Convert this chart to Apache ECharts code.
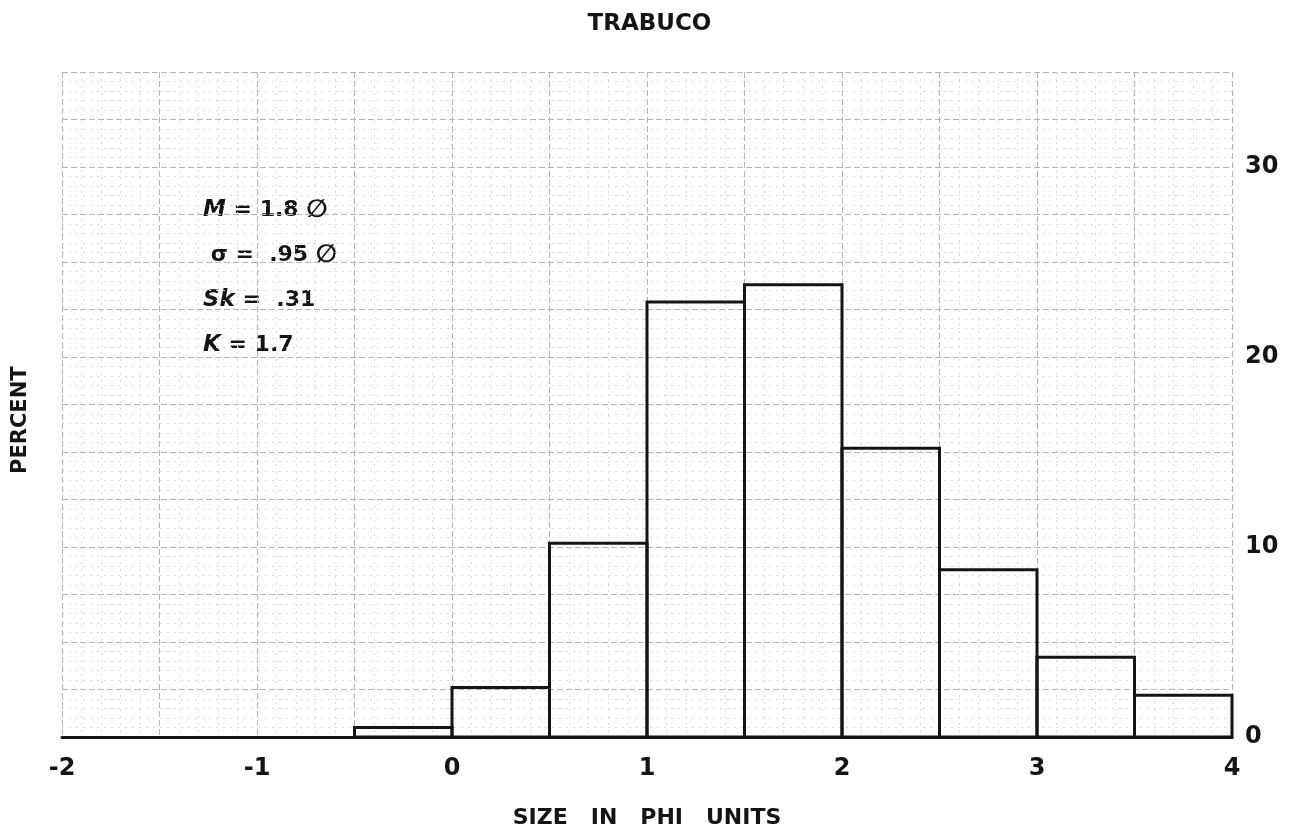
<!DOCTYPE html>
<html>
<head>
<meta charset="utf-8">
<script src="https://cdn.jsdelivr.net/npm/echarts@6/dist/echarts.min.js"></script>
<style>
  html, body { margin: 0; padding: 0; background: #fff; }
  #chart { width: 1299px; height: 834px; }
</style>
</head>
<body>
<div id="chart"></div>
<script>
// histogram bins (phi units) and percent in each bin
const binStart = [-0.5, 0, 0.5, 1, 1.5, 2, 2.5, 3, 3.5];
const binEnd = [0, 0.5, 1, 1.5, 2, 2.5, 3, 3.5, 4];
const percent = [0.5, 2.6, 10.2, 22.9, 23.8, 15.2, 8.8, 4.2, 2.2];

const xTicks = [-2, -1, 0, 1, 2, 3, 4];
const yTicks = [0, 10, 20, 30];
const stats = ['{i|M} = 1.8 {p|∅}', ' σ =  .95 {p|∅}', '{i|Sk} =  .31', '{i|K} = 1.7'];

const font = 'DejaVu Sans';
const ink = '#141414';
const chart = echarts.init(document.getElementById('chart'));

const option = {
    backgroundColor: '#fff',
    animation: false,
    title: {
        text: 'TRABUCO',
        left: 'center',
        top: 8,
        textStyle: { fontFamily: font, fontSize: 23, fontWeight: 'bold', color: ink }
    },
    grid: { left: 62, right: 67, top: 72, bottom: 96 },
    xAxis: {
        type: 'value',
        min: -2,
        max: 4,
        interval: 0.5,
        name: 'SIZE   IN   PHI   UNITS',
        nameLocation: 'middle',
        nameGap: 70,
        nameTextStyle: { fontFamily: font, fontSize: 22, fontWeight: 'bold', color: ink },
        axisLine: { show: true, lineStyle: { color: ink, width: 3 } },
        axisTick: { show: false },
        axisLabel: {
            margin: 20,
            fontFamily: font,
            fontSize: 24,
            fontWeight: 'bold',
            color: ink,
            formatter: v => (xTicks.includes(v) ? String(v) : '')
        },
        splitLine: { show: true, lineStyle: { color: '#b4b4b4', type: [6, 3], width: 1 } },
        minorTick: { show: false, splitNumber: 5 },
        minorSplitLine: { show: true, lineStyle: { color: '#dadada', type: [2, 5], width: 1 } }
    },
    yAxis: {
        type: 'value',
        position: 'right',
        min: 0,
        max: 35,
        interval: 2.5,
        axisLine: { show: false },
        axisTick: { show: false },
        axisLabel: {
            margin: 13,
            fontFamily: font,
            fontSize: 24,
            fontWeight: 'bold',
            color: ink,
            formatter: v => (yTicks.includes(v) ? String(v) : '')
        },
        splitLine: { show: true, lineStyle: { color: '#b4b4b4', type: [6, 3], width: 1 } },
        minorTick: { show: false, splitNumber: 5 },
        minorSplitLine: { show: true, lineStyle: { color: '#dadada', type: [2, 5], width: 1 } }
    },
    graphic: [
        {
            type: 'text',
            x: 10,
            y: 474,
            rotation: Math.PI / 2,
            style: { text: 'PERCENT', fontFamily: font, fontSize: 21, fontWeight: 'bold', fill: ink }
        },
        {
            type: 'text',
            x: 203,
            y: 188,
            style: {
                text: stats.join('\n'),
                fontFamily: font,
                fontSize: 22,
                fontWeight: 'bold',
                lineHeight: 45,
                fill: ink,
                rich: {
                    i: { fontStyle: 'italic', fontWeight: 'bold', fontFamily: font, fontSize: 23 },
                    p: { fontFamily: font, fontWeight: 'bold', fontSize: 25 }
                }
            }
        }
    ],
    series: [
        {
            type: 'custom',
            data: binStart.map((s, i) => [s, binEnd[i], percent[i]]),
            encode: { x: [0, 1], y: 2 },
            renderItem: (params, api) => {
                const p0 = api.coord([api.value(0), api.value(2)]);
                const p1 = api.coord([api.value(1), 0]);
                return {
                    type: 'rect',
                    shape: { x: p0[0], y: p0[1], width: p1[0] - p0[0], height: p1[1] - p0[1] },
                    style: { fill: 'none', stroke: ink, lineWidth: 3 }
                };
            }
        }
    ]
};

chart.setOption(option);
</script>
</body>
</html>
